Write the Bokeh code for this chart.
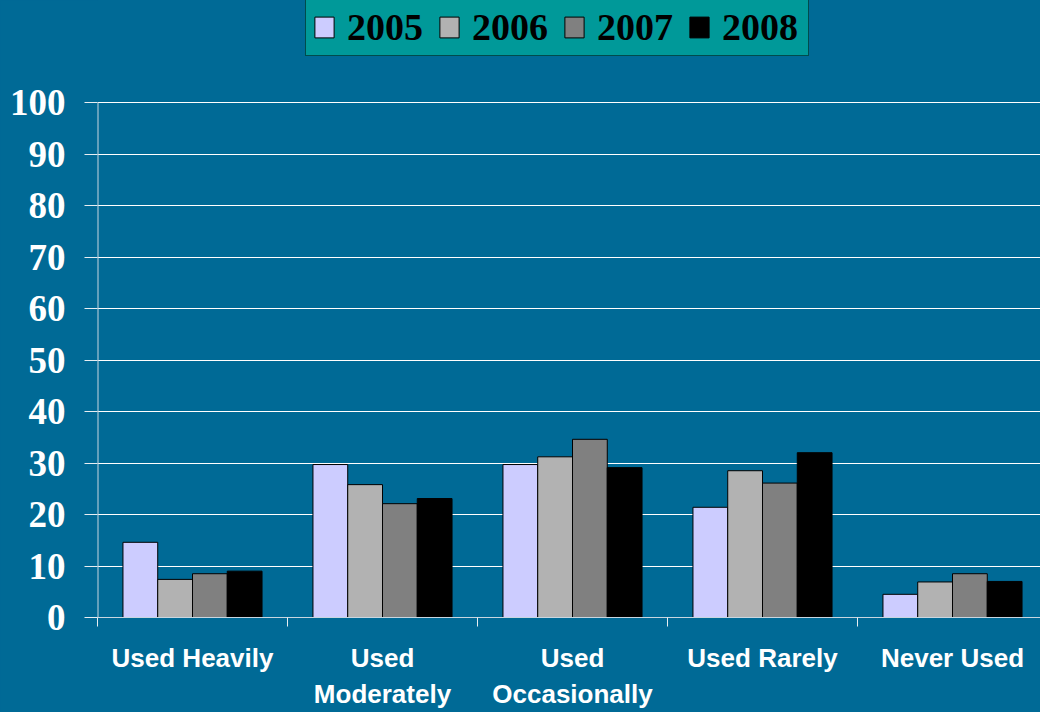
from bokeh.plotting import figure
from bokeh.models import Range1d, FixedTicker, Legend, LegendItem
from bokeh.embed import file_html
from bokeh.resources import INLINE

categories = ["Used Heavily", "Used\nModerately", "Used\nOccasionally", "Used Rarely", "Never Used"]
years = ["2005", "2006", "2007", "2008"]
v2005 = [14.6, 29.7, 29.7, 21.4, 4.5]
v2006 = [7.4, 25.8, 31.2, 28.5, 6.9]
v2007 = [8.5, 22.1, 34.6, 26.1, 8.5]
v2008 = [9.0, 23.1, 29.1, 32.0, 7.0]
series = [v2005, v2006, v2007, v2008]
colors = ["#CCCCFF", "#B2B2B2", "#808080", "#000000"]
y_ticks = list(range(0, 101, 10))

BG = "#006A96"
W, H = 1040, 712
LEFT, BOTTOM = 97, 95
PLOT_TOP = 102            # pixel row of the value 100
frame_w = W - LEFT
frame_h = H - BOTTOM
px_per_unit = (frame_h - PLOT_TOP) / 100.0
y_end = frame_h / px_per_unit
cat_px = 190.0

p = figure(width=W, height=H, output_backend="svg", toolbar_location=None,
           x_range=Range1d(0, frame_w / cat_px),
           y_range=Range1d(0, y_end),
           min_border_left=LEFT, min_border_right=0, min_border_top=0,
           min_border_bottom=BOTTOM)
p.background_fill_color = BG
p.border_fill_color = BG
p.outline_line_color = None
p.styles = {"background-color": BG}

bw = 0.183
items = []
for k, (yr, vals, col) in enumerate(zip(years, series, colors)):
    xs = [i + 0.5 + (k - 1.5) * bw for i in range(len(categories))]
    r = p.vbar(x=xs, top=vals, width=bw, bottom=0, fill_color=col,
               line_color="#000000", line_width=1)
    items.append(LegendItem(label=yr, renderers=[r]))

# value axis line drawn only over 0..100
p.segment(x0=[0], y0=[0], x1=[0], y1=[100], line_color="#C8D6E0", line_width=2)

# axes
p.yaxis.ticker = FixedTicker(ticks=y_ticks, minor_ticks=[])
p.yaxis.bounds = (0, 100)
p.yaxis.axis_line_color = None
p.yaxis.major_tick_line_color = "#E8EEF2"
p.yaxis.major_tick_out = 13
p.yaxis.major_tick_in = 0
p.yaxis.minor_tick_line_color = None
p.yaxis.major_label_standoff = 19
p.yaxis.major_label_text_font = "Liberation Serif"
p.yaxis.major_label_text_font_style = "bold"
p.yaxis.major_label_text_font_size = "37px"
p.yaxis.major_label_text_color = "#FFFFFF"

p.xaxis.ticker = FixedTicker(ticks=[i + 0.5 for i in range(len(categories))],
                             minor_ticks=list(range(len(categories) + 1)))
p.xaxis.major_label_overrides = {i + 0.5: c for i, c in enumerate(categories)}
p.xaxis.axis_line_color = "#C8D6E0"
p.xaxis.major_tick_line_color = None
p.xaxis.major_tick_out = 0
p.xaxis.major_tick_in = 0
p.xaxis.minor_tick_line_color = "#E8EEF2"
p.xaxis.minor_tick_out = 9
p.xaxis.minor_tick_in = 0
p.xaxis.major_label_standoff = 16
p.xaxis.major_label_text_font = "Liberation Sans"
p.xaxis.major_label_text_font_style = "bold"
p.xaxis.major_label_text_font_size = "26px"
p.xaxis.major_label_text_color = "#FFFFFF"

p.xgrid.visible = False
p.ygrid.ticker = FixedTicker(ticks=y_ticks)
p.ygrid.grid_line_color = "#FFFFFF"
p.ygrid.grid_line_width = 1

legend = Legend(items=items, orientation="horizontal", location=(208, frame_h - 56),
                margin=0, padding=6, spacing=10, label_width=80,
                glyph_width=24, glyph_height=26, label_standoff=11,
                background_fill_color="#009999", background_fill_alpha=1.0,
                border_line_color="#000000", border_line_width=1,
                label_text_font="Liberation Serif", label_text_font_style="bold",
                label_text_font_size="38px", label_text_color="#000000")
p.add_layout(legend, "center")

open("out.html", "w").write(file_html(p, INLINE))
